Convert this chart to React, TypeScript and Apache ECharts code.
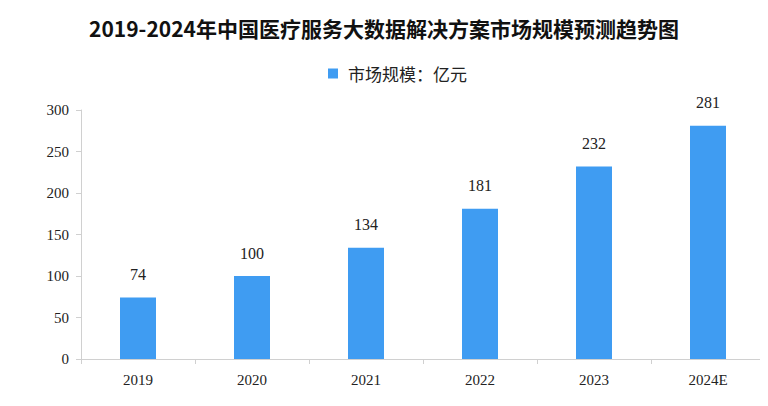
import React, { useEffect, useRef } from "react";
import * as echarts from "echarts";

const categories = ["2019", "2020", "2021", "2022", "2023", "2024E"];
const marketSize = [74, 100, 134, 181, 232, 281];
const seriesName = "市场规模：亿元";
const titleText = "2019-2024年中国医疗服务大数据解决方案市场规模预测趋势图";

const FONT = "'Liberation Serif', 'Noto Sans CJK SC', serif";

export default function App() {
  const ref = useRef<HTMLDivElement>(null);
  useEffect(() => {
    const chart = echarts.init(ref.current!, null, { renderer: "svg" });
    chart.setOption({
      animation: false,
      backgroundColor: "#ffffff",
      title: {
        text: titleText,
        left: "center",
        top: 12,
        textStyle: {
          fontFamily: "'Noto Sans CJK SC', sans-serif",
          fontWeight: "bold",
          fontSize: 21,
          color: "#111",
        },
      },
      legend: {
        data: [seriesName],
        top: 60,
        left: 323,
        icon: "rect",
        itemWidth: 10,
        itemHeight: 10,
        itemGap: 6,
        textStyle: {
          fontFamily: "'Noto Sans CJK SC', sans-serif",
          fontSize: 17,
          color: "#222",
          padding: [0, 0, 0, 5],
        },
      },
      grid: { left: 81, right: 3, top: 110, bottom: 47, containLabel: false },
      xAxis: {
        type: "category",
        data: categories,
        axisLine: { lineStyle: { color: "#d0d0d0" } },
        axisTick: { show: true, lineStyle: { color: "#d0d0d0" } },
        axisLabel: { color: "#222", fontSize: 15, fontFamily: FONT, margin: 13 },
      },
      yAxis: {
        type: "value",
        min: 0,
        max: 300,
        interval: 50,
        axisLine: { show: true, lineStyle: { color: "#d0d0d0" } },
        axisTick: { show: true, lineStyle: { color: "#d0d0d0" } },
        splitLine: { show: false },
        axisLabel: { color: "#222", fontSize: 15, fontFamily: FONT, margin: 12 },
      },
      series: [
        {
          name: seriesName,
          type: "bar",
          data: marketSize,
          barWidth: 36,
          itemStyle: { color: "#3F9CF2" },
          label: {
            show: true,
            position: "top",
            distance: 15,
            color: "#222",
            fontSize: 16,
            fontFamily: FONT,
          },
        },
      ],
    });
    return () => chart.dispose();
  }, []);
  return <div ref={ref} style={{ width: 768, height: 406, margin: "-8px 0 0 -8px" }} />;
}
